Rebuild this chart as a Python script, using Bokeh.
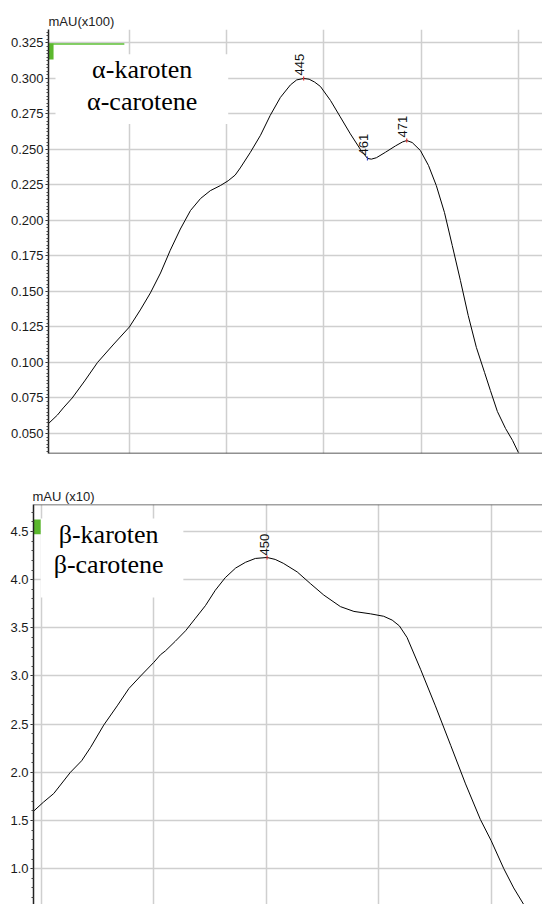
import math
from bokeh.plotting import figure
from bokeh.models import FixedTicker, NumeralTickFormatter, Span
from bokeh.core.properties import value
from bokeh.embed import file_html
from bokeh.resources import INLINE

# ---------------- data: alpha-carotene (mAU x100) ----------------
alpha_nm = [379.2, 381.5, 383.0, 385.3, 388.5, 391.8, 396.0, 400.0, 402.8, 405.4,
            408.0, 410.5, 413.1, 415.7, 418.3, 420.8, 423.4, 425.4, 427.2, 428.5,
            431.1, 433.7, 436.2, 438.8, 441.4, 443.0, 444.8, 446.2, 447.6, 449.1,
            451.7, 454.2, 456.8, 459.4, 460.5, 461.2, 462.2, 463.5, 465.8, 468.4,
            470.2, 471.3, 472.7, 474.8, 476.9, 478.9, 481.0, 483.0, 485.1, 487.1,
            489.2, 491.3, 492.8, 494.6, 496.7, 498.5, 500.0]
alpha_mau = [0.057, 0.063, 0.068, 0.075, 0.087, 0.100, 0.113, 0.125, 0.137, 0.149,
             0.163, 0.179, 0.194, 0.207, 0.2155, 0.221, 0.2246, 0.228, 0.232, 0.237,
             0.248, 0.260, 0.274, 0.2866, 0.2955, 0.2990, 0.300, 0.2995, 0.2975, 0.2944,
             0.2845, 0.273, 0.261, 0.250, 0.2462, 0.2437, 0.2432, 0.2442, 0.248, 0.2525,
             0.2553, 0.2563, 0.2549, 0.2493, 0.2387, 0.2246, 0.2056, 0.1824, 0.1577, 0.1331,
             0.1106, 0.0930, 0.0803, 0.0655, 0.0535, 0.0451, 0.0366]
alpha_yticks = [0.050, 0.075, 0.100, 0.125, 0.150, 0.175, 0.200, 0.225, 0.250, 0.275, 0.300, 0.325]
alpha_peak_nm = [444.8, 461.2, 471.3]
alpha_peak_mau = [0.300, 0.2437, 0.2563]
alpha_peak_labels = ["445", "461", "471"]
alpha_peak_colors = ["#e03030", "#3040c0", "#e03030"]
alpha_names = ["α-karoten", "α-carotene"]

# ---------------- data: beta-carotene (mAU x10) ----------------
beta_nm = [398.4, 400.5, 402.8, 406.5, 409.0, 411.0, 413.9, 416.9, 419.5, 422.1,
           425.0, 426.5, 427.6, 429.8, 432.1, 434.3, 436.5, 438.7, 440.9, 443.2,
           445.4, 447.6, 450.2, 452.0, 453.8, 456.9, 459.8, 462.8, 466.5, 469.5,
           473.2, 476.1, 478.0, 479.6, 481.3, 484.3, 487.6, 491.0, 494.3, 497.6,
           500.0, 502.8, 505.0, 507.2]
beta_mau = [1.60, 1.69, 1.78, 2.00, 2.12, 2.26, 2.49, 2.69, 2.87, 3.00,
            3.14, 3.22, 3.26, 3.36, 3.47, 3.60, 3.73, 3.89, 4.02, 4.12,
            4.18, 4.22, 4.23, 4.21, 4.17, 4.08, 3.96, 3.84, 3.72, 3.67,
            3.645, 3.62, 3.58, 3.52, 3.40, 3.07, 2.69, 2.28, 1.88, 1.51,
            1.29, 1.00, 0.80, 0.63]
beta_yticks = [1.0, 1.5, 2.0, 2.5, 3.0, 3.5, 4.0, 4.5]
beta_peak_nm = [450.2]
beta_peak_mau = [4.23]
beta_peak_labels = ["450"]
beta_peak_colors = ["#e03030"]
beta_names = ["β-karoten", "β-carotene"]

x_ticks = [400, 425, 450, 475, 500]

GRID = "#cfcfcf"
SANS = "Liberation Sans"
SERIF = "Liberation Serif"


def style(p, yticks, minor, fmt):
    p.outline_line_color = None
    p.background_fill_color = "white"
    p.border_fill_color = "white"
    p.title.text_font = SANS
    p.title.text_font_size = "13px"
    p.title.text_font_style = "normal"
    p.title.text_color = "#222222"
    p.title.align = "left"
    p.title.standoff = 1
    p.title.offset = 0
    ya = p.yaxis[0]
    ya.ticker = FixedTicker(ticks=yticks, minor_ticks=minor)
    ya.formatter = NumeralTickFormatter(format=fmt)
    ya.major_label_text_font = SANS
    ya.major_label_text_font_size = "13px"
    ya.major_label_text_color = "#1a1a1a"
    ya.major_label_standoff = 2
    ya.major_tick_out = 3
    ya.major_tick_in = 0
    ya.minor_tick_out = 2
    ya.minor_tick_in = 0
    ya.axis_line_color = "#222222"
    ya.axis_line_width = 1.5
    ya.major_tick_line_color = "#222222"
    ya.minor_tick_line_color = "#444444"
    p.xaxis.visible = False
    p.xgrid.ticker = FixedTicker(ticks=x_ticks)
    for g in (p.xgrid, p.ygrid):
        g.grid_line_color = GRID
        g.grid_line_width = 1.5


# ---------------- top panel ----------------
A_Y0, A_Y1 = 0.0359, 0.3345
p1 = figure(width=542, height=478, x_range=(379.2, 506.2), y_range=(A_Y0, A_Y1),
            output_backend="svg", toolbar_location=None, title="mAU(x100)",
            min_border_left=48, min_border_right=0, min_border_top=29, min_border_bottom=25)
a_minor = [round(0.035 + 0.0025 * i, 4) for i in range(121)]
style(p1, alpha_yticks, a_minor, "0.000")
p1.add_layout(Span(location=A_Y0, dimension="width", line_color="#222222", line_width=1.5))

p1.quad(left=[381.0], right=[425.4], top=[0.3171], bottom=[0.268], fill_color="white", line_color=None)
p1.text(x=[403.3, 403.3], y=[0.3061, 0.2836], text=alpha_names, text_font=value(SERIF),
        text_font_size="26px", text_align="center", text_baseline="middle", text_color="black")
p1.line([379.2, 398.7], [0.3243, 0.3243], line_color="#5cbf35", line_width=1.5)
p1.quad(left=[379.2], right=[380.5], top=[0.3246], bottom=[0.3133], fill_color="#5cb82e", line_color=None)
p1.line(alpha_nm, alpha_mau, line_color="black", line_width=1, line_join="round")
p1.scatter(alpha_peak_nm, alpha_peak_mau, marker="dash", angle=math.pi / 2, size=4,
           line_color=alpha_peak_colors, line_width=1.2)
p1.text(x=alpha_peak_nm, y=alpha_peak_mau, text=alpha_peak_labels, angle=math.pi / 2,
        text_align="left", text_baseline="middle", y_offset=-3, x_offset=-4,
        text_font=value(SANS), text_font_size="13px", text_color="#111111")

# ---------------- bottom panel ----------------
B_Y0, B_Y1 = 0.628, 4.780
p2 = figure(width=542, height=426, x_range=(398.3, 511.4), y_range=(B_Y0, B_Y1),
            output_backend="svg", toolbar_location=None, title="mAU (x10)",
            min_border_left=33, min_border_right=0, min_border_top=26, min_border_bottom=0)
b_minor = [round(0.5 + 0.1 * i, 2) for i in range(45)]
style(p2, beta_yticks, b_minor, "0.0")
p2.title.offset = -1
p2.add_layout(Span(location=B_Y1, dimension="width", line_color="#444444", line_width=1.5))

p2.quad(left=[399.9], right=[431.6], top=[4.635], bottom=[3.815], fill_color="white", line_color=None)
p2.text(x=[415.0, 415.0], y=[4.466, 4.154], text=beta_names, text_font=value(SERIF),
        text_font_size="26px", text_align="center", text_baseline="middle", text_color="black")
p2.quad(left=[398.3], right=[399.9], top=[4.625], bottom=[4.47], fill_color="#5cb82e", line_color=None)
p2.line(beta_nm, beta_mau, line_color="black", line_width=1, line_join="round")
p2.scatter(beta_peak_nm, beta_peak_mau, marker="dash", angle=math.pi / 2, size=4,
           line_color=beta_peak_colors, line_width=1.2)
p2.text(x=beta_peak_nm, y=beta_peak_mau, text=beta_peak_labels, angle=math.pi / 2,
        text_align="left", text_baseline="middle", y_offset=-2, x_offset=-3,
        text_font=value(SANS), text_font_size="13px", text_color="#111111")

open("out.html", "w").write(file_html([p1, p2], INLINE))
